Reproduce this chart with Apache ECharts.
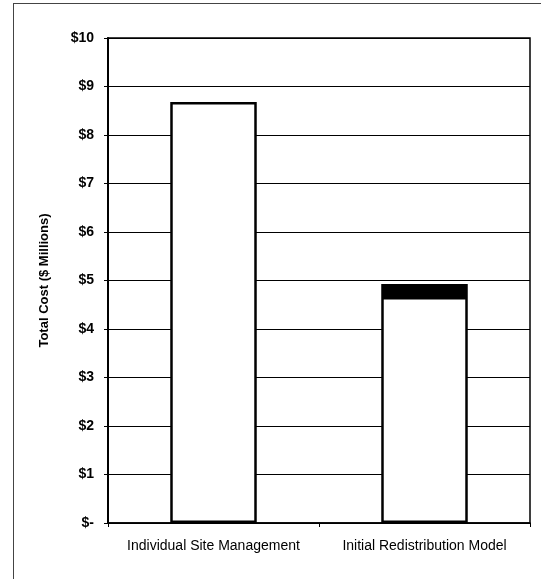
<!DOCTYPE html>
<html>
<head>
<meta charset="utf-8">
<script src="https://cdn.jsdelivr.net/npm/echarts@6/dist/echarts.min.js"></script>
<style>
html,body{margin:0;padding:0;background:#fff;}
#chart{width:541px;height:579px;}
</style>
</head>
<body>
<div id="chart"></div>
<script>
var categories = ['Individual Site Management', 'Initial Redistribution Model'];
var baseValues = [8.68, 4.66];
var capValues = ['-', 0.27];
var yTickValues = [0, 1, 2, 3, 4, 5, 6, 7, 8, 9, 10];
var yTickLabels = ['$-', '$1', '$2', '$3', '$4', '$5', '$6', '$7', '$8', '$9', '$10'];
var yAxisTitle = 'Total Cost ($ Millions)';

var chart = echarts.init(document.getElementById('chart'));
chart.setOption({
  animation: false,
  backgroundColor: '#fff',
  grid: {left: 108, right: 11, top: 38, bottom: 56, show: true, borderColor: '#000', borderWidth: 1.5, backgroundColor: 'transparent'},
  graphic: [
    {type: 'line', shape: {x1: 13.5, y1: 3, x2: 13.5, y2: 579}, style: {stroke: '#444', lineWidth: 1}},
    {type: 'line', shape: {x1: 13, y1: 3.5, x2: 541, y2: 3.5}, style: {stroke: '#444', lineWidth: 1}}
  ],
  xAxis: {
    type: 'category',
    data: categories,
    axisLine: {show: true, lineStyle: {color: '#000', width: 1.5}},
    axisTick: {show: true, length: 4, interval: 0, lineStyle: {color: '#000'}},
    axisLabel: {color: '#000', fontFamily: 'Liberation Sans, Arial, sans-serif', fontSize: 14, margin: 16, interval: 0, hideOverlap: false}
  },
  yAxis: {
    type: 'value',
    min: 0, max: 10, interval: 1,
    name: yAxisTitle,
    nameLocation: 'middle',
    nameGap: 57,
    nameTextStyle: {color: '#000', fontFamily: 'Liberation Sans, Arial, sans-serif', fontSize: 13, fontWeight: 'bold'},
    axisLine: {show: true, lineStyle: {color: '#000', width: 2}},
    axisTick: {show: true, length: 4, lineStyle: {color: '#000'}},
    splitLine: {show: true, lineStyle: {color: '#000', width: 1}},
    axisLabel: {
      color: '#000', fontFamily: 'Liberation Sans, Arial, sans-serif', fontSize: 14, fontWeight: 'bold', margin: 14,
      formatter: function (v) { var i = yTickValues.indexOf(v); return i >= 0 ? yTickLabels[i] : ''; }
    }
  },
  series: [
    {
      name: 'Base', type: 'bar', stack: 'total', data: baseValues, barWidth: '41%',
      itemStyle: {color: '#fff', borderColor: '#000', borderWidth: 2.5}
    },
    {
      name: 'Cap', type: 'bar', stack: 'total', data: capValues, barWidth: '41%',
      itemStyle: {color: '#000', borderColor: '#000', borderWidth: 2.5}
    }
  ]
});
</script>
</body>
</html>
